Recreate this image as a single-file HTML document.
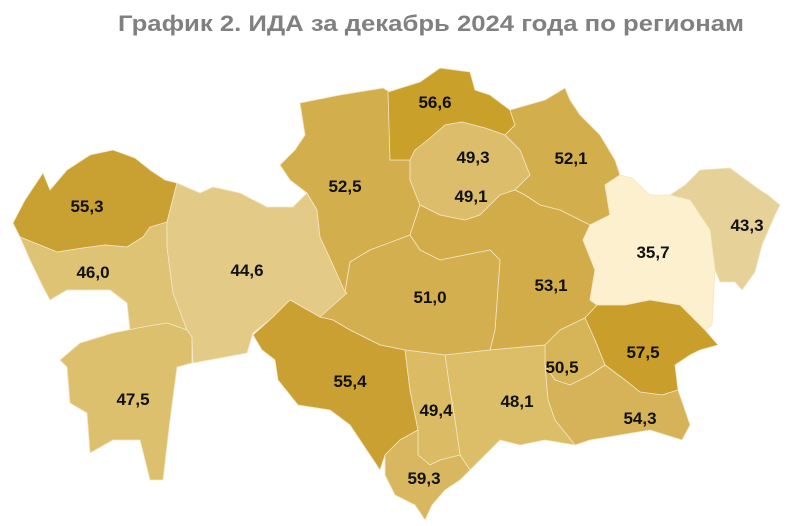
<!DOCTYPE html>
<html><head><meta charset="utf-8"><style>
html,body{margin:0;padding:0;background:#fff;}
svg{display:block;}
.l{font-family:"Liberation Sans",sans-serif;font-weight:bold;font-size:17px;fill:#111;text-anchor:middle;}
</style></head><body>
<svg width="800" height="526" viewBox="0 0 800 526" xmlns="http://www.w3.org/2000/svg">
<text x="431" y="31" textLength="626" lengthAdjust="spacingAndGlyphs" style="font-family:'Liberation Sans',sans-serif;font-weight:bold;font-size:22px;fill:#808080;text-anchor:middle">График 2. ИДА за декабрь 2024 года по регионам</text>
<g stroke="#f3e6c4" stroke-width="0.8" stroke-linejoin="round">
<polygon fill="#c9a032" points="13,223 25,200 43,173 50,190 67,170 90,155 113,150 135,158 150,170 165,180 177,183 167,222 143,237 127,247 105,245 83,248 57,252 20,237"/>
<polygon fill="#dfc375" points="20,237 57,252 83,248 105,245 127,247 143,237 150,227 167,222 167,247 173,293 187,330 167,323 143,327 130,330 127,303 110,290 67,290 50,300 43,287 30,260"/>
<polygon fill="#ddc06e" points="60,360 80,343 113,333 143,327 167,323 187,330 192,337 192,363 177,367 170,420 163,480 150,480 140,440 113,440 90,453 87,413 70,403 67,367"/>
<polygon fill="#e3cb87" points="167,222 177,183 200,193 213,187 240,193 267,207 293,207 307,193 317,210 320,237 333,265 347,293 320,317 290,300 273,317 253,333 247,353 193,363 192,337 187,330 173,293 167,247"/>
<polygon fill="#d3ae4c" points="300,103 340,95 383,88 390,92 390,160 410,160 410,180 420,205 410,235 370,250 350,262 345,292 333,265 320,237 317,210 307,193 290,180 280,165 295,150 305,135"/>
<polygon fill="#c9a02a" points="388,92 420,82 440,68 470,72 475,90 490,95 510,110 515,125 505,135 485,128 462,122 445,125 430,140 415,150 410,160 390,160"/>
<polygon fill="#dcbd6c" points="415,150 430,138 445,125 462,122 485,128 505,135 520,150 530,175 515,190 500,195 480,215 465,220 440,215 420,205 410,180 410,160"/>
<polygon fill="#d3ae4c" points="505,135 515,125 510,110 545,100 565,88 570,100 580,115 600,135 615,160 620,175 605,185 610,215 590,225 560,210 540,205 525,195 515,190 530,175 520,150"/>
<polygon fill="#d2ac48" points="420,205 440,215 465,220 480,215 500,195 515,190 525,195 540,205 560,210 590,225 583,240 595,270 590,300 597,305 585,318 560,330 545,345 490,350 495,330 500,260 490,250 465,255 440,260 420,250 410,235"/>
<polygon fill="#d4af50" points="345,292 350,262 370,250 410,235 420,250 440,260 465,255 490,250 500,260 495,330 490,350 445,355 405,350 380,345 350,330 333,320 320,317 347,293"/>
<polygon fill="#fcf0cf" points="590,225 610,215 605,185 620,175 632,178 650,195 670,195 690,200 710,230 715,270 712,325 705,330 680,305 650,300 625,305 597,305 590,300 595,270 583,240"/>
<polygon fill="#e6d199" points="670,195 685,185 700,170 730,168 760,190 768,195 780,205 775,215 762,245 755,272 742,290 735,282 720,282 715,270 710,230 690,200"/>
<polygon fill="#c99e2a" points="585,318 597,305 625,305 650,300 680,305 705,330 718,345 700,350 690,355 675,365 678,390 662,395 640,392 625,380 605,365 595,340"/>
<polygon fill="#d6b458" points="545,345 560,330 585,318 595,340 605,365 590,375 570,385 555,380 545,365"/>
<polygon fill="#d6b258" points="545,365 555,380 570,385 590,375 605,365 625,380 640,392 662,395 678,390 685,410 690,425 682,440 650,430 620,435 590,440 575,445 555,420 548,400"/>
<polygon fill="#dcbd68" points="445,355 490,350 545,345 545,365 548,400 555,420 575,445 545,440 520,445 500,440 480,460 470,470 460,455 455,420 450,390"/>
<polygon fill="#caa033" points="273,317 290,300 320,317 333,320 350,330 380,345 405,350 410,390 418,430 400,440 385,455 380,470 370,455 350,425 330,410 298,405 278,380 275,360 262,350 253,335"/>
<polygon fill="#dbbb64" points="405,350 445,355 450,390 455,420 460,455 440,460 430,465 418,455 418,430 410,390"/>
<polygon fill="#d9b760" points="385,455 400,440 418,430 418,455 430,465 440,460 460,455 470,470 460,480 445,490 432,505 425,520 415,505 395,495 385,475"/>
</g>
<text class="l" x="87" y="212">55,3</text>
<text class="l" x="93" y="278">46,0</text>
<text class="l" x="247" y="276">44,6</text>
<text class="l" x="133" y="405">47,5</text>
<text class="l" x="345" y="192">52,5</text>
<text class="l" x="435" y="108">56,6</text>
<text class="l" x="473" y="163">49,3</text>
<text class="l" x="471" y="202">49,1</text>
<text class="l" x="571" y="164">52,1</text>
<text class="l" x="747" y="231">43,3</text>
<text class="l" x="653" y="258">35,7</text>
<text class="l" x="430" y="303">51,0</text>
<text class="l" x="551" y="291">53,1</text>
<text class="l" x="643" y="358">57,5</text>
<text class="l" x="562" y="373">50,5</text>
<text class="l" x="350" y="387">55,4</text>
<text class="l" x="436" y="416">49,4</text>
<text class="l" x="517" y="407">48,1</text>
<text class="l" x="640" y="424">54,3</text>
<text class="l" x="424" y="484">59,3</text>
</svg>
</body></html>
